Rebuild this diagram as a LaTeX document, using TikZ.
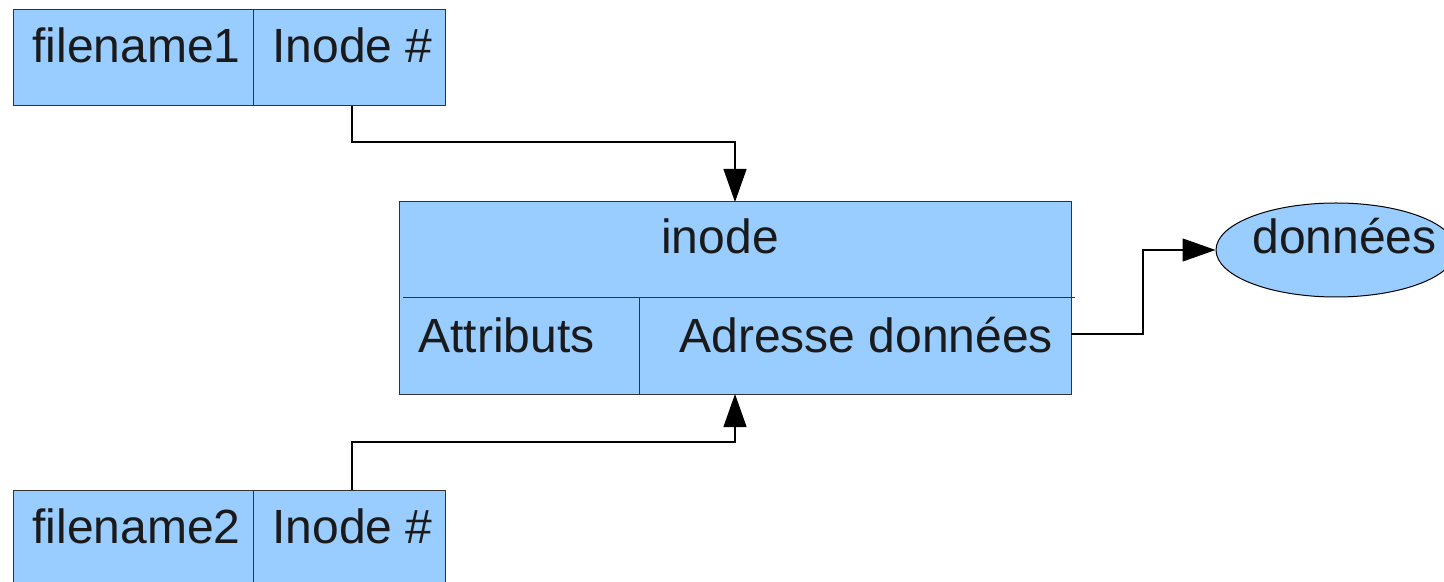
\documentclass[tikz,border=0pt]{standalone}
\usepackage{fontspec}
\setmainfont{Liberation Sans}
\usetikzlibrary{arrows.meta,shapes.geometric,calc}
\definecolor{cellblue}{HTML}{99CCFF}
\definecolor{edge}{HTML}{333333}
\definecolor{ink}{HTML}{1A1A1A}
\tikzset{
  cell/.style={draw=edge, fill=cellblue, line width=0.5pt, inner sep=0pt, outer sep=0pt, anchor=north west},
  lbl/.style={font=\fontsize{24pt}{28pt}\selectfont, text=ink, inner sep=0pt, anchor=base west},
  link/.style={draw=black, line width=0.6pt, -{Triangle[length=16.5pt,width=11.5pt]}}
}
\begin{document}
\begin{tikzpicture}[x=0.5pt,y=-0.5pt]
  \useasboundingbox (0,0) rectangle (1444,582);
  % directory entry 1
  \node[cell, minimum width=120pt, minimum height=48pt] (f1name) at (13,10) {};
  \node[cell, minimum width=96pt, minimum height=48pt] (f1ino) at (253,10) {};
  \node[lbl] (f1nametxt) at (32,63) {filename1};
  \node[lbl] (f1inotxt) at (272,63) {Inode \#};
  % directory entry 2
  \node[cell, minimum width=120pt, minimum height=48pt] (f2name) at (13,490) {};
  \node[cell, minimum width=96pt, minimum height=48pt] (f2ino) at (253,490) {};
  \node[lbl] (f2nametxt) at (32,543) {filename2};
  \node[lbl] (f2inotxt) at (272,543) {Inode \#};
  % inode structure
  \node[cell, minimum width=336pt, minimum height=96pt] (inode) at (399,202) {};
  \draw[edge, line width=0.5pt] (403,298) -- (1075,298);
  \draw[edge, line width=0.5pt] (639,298) -- (639,394);
  \coordinate (addr) at (1071,334);
  \node[lbl, anchor=base] (inodetxt) at (720,254) {inode};
  \node[lbl] (attrtxt) at (418,352) {Attributs};
  \node[lbl] (addrtxt) at (679,352) {Adresse données};
  % data block
  \node[ellipse, draw=black, fill=cellblue, line width=0.5pt, inner sep=0pt,
        minimum width=120pt, minimum height=47pt] (donnees) at (1336,250) {};
  \node[lbl] (donneestxt) at (1252,254) {données};
  % pointers
  \draw[link] ([xshift=1.5pt]f1ino.south) -- ++(0,36) -| (inode.north);
  \draw[link] ([xshift=1.5pt]f2ino.north) -- ++(0,-48) -| (inode.south);
  \draw[link] (addr) -- ++(72,0) |- (donnees.west);
\end{tikzpicture}
\end{document}
